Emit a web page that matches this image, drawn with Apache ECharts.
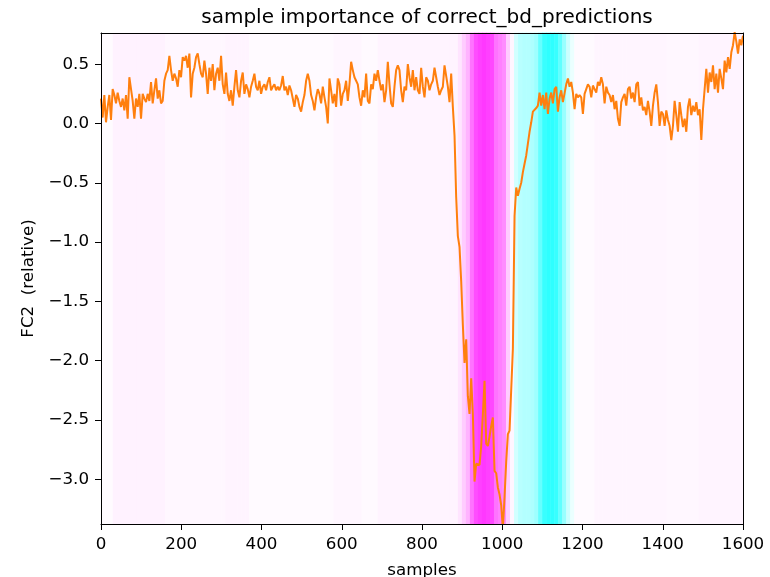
<!DOCTYPE html>
<html>
<head>
<meta charset="utf-8">
<script src="https://cdn.jsdelivr.net/npm/echarts@6/dist/echarts.min.js"></script>
<style>
  html, body { margin: 0; padding: 0; background: #ffffff; overflow: hidden; }
  #chart { width: 770px; height: 577px; }
</style>
</head>
<body>
<div id="chart"></div>
<script>
// Relative FC2 activation per sample; points are spaced evenly over 0..1600 samples.
const SAMPLE_STEP = 1600 / 385;

const fc2Early = [
  0.21,0.05,0.24,0.01,0.14,0.24,0.03,0.29,0.24,0.17,
  0.26,0.19,0.14,0.21,0.11,0.24,0.04,0.39,0.40,0.19,
  0.04,0.21,0.14,0.25,0.04,0.25,0.21,0.18,0.25,0.19,
  0.35,0.17,0.28,0.38,0.21,0.28,0.17,0.19,0.36,0.42,
  0.45,0.57,0.45,0.36,0.42,0.38,0.31,0.45,0.39,0.56,
  0.53,0.57,0.47,0.59,0.22,0.42,0.47,0.56,0.59,0.50,
  0.42,0.39,0.53,0.42,0.25,0.47,0.36,0.50,0.28,0.42,
  0.47,0.36,0.57
];

const fc2Plateau = [
  0.33,0.25,0.43,0.25,0.19,0.28,0.15,0.31,0.45,0.28,
  0.22,0.36,0.43,0.25,0.33,0.29,0.22,0.31,0.36,0.42,
  0.31,0.28,0.36,0.25,0.31,0.33,0.28,0.35,0.39,0.28,
  0.31,0.33,0.28,0.31,0.28,0.32,0.40,0.28,0.31,0.24,
  0.32,0.28,0.21,0.14,0.24,0.21,0.14,0.10,0.18,0.24,
  0.36,0.42,0.36,0.24,0.19,0.11,0.22,0.29,0.25,0.17,
  0.31,0.22,0.14,0.00,0.38,0.28,0.17,0.25,0.14,0.38,
  0.33,0.15,0.25
];

const fc2Late = [
  0.28,0.36,0.19,0.33,0.52,0.45,0.39,0.36,0.33,0.22,
  0.15,0.28,0.22,0.42,0.19,0.17,0.33,0.29,0.42,0.36,
  0.45,0.36,0.28,0.33,0.18,0.28,0.52,0.33,0.17,0.14,
  0.31,0.45,0.49,0.45,0.28,0.18,0.31,0.28,0.50,0.39,
  0.31,0.45,0.28,0.39,0.28,0.25,0.47,0.31,0.22,0.39,
  0.36,0.28,0.33,0.36,0.47,0.39,0.31,0.24,0.28,0.31,
  0.49,0.50,0.31,0.18,0.42,0.14
];

const fc2Drop = [
  -0.10,-0.62,-0.95,-1.04,-1.33,-1.70,-2.02,-1.82,-2.30,-2.45,
  -2.15,-2.45,-3.02,-2.87,-2.87,-2.88,-2.72,-2.45,-2.17,-2.70,
  -2.72,-2.64,-2.55,-2.48,-2.93,-2.95,-3.07,-3.13,-3.22,-3.42,
  -3.15,-2.85,-2.62,-2.59,-2.59,-1.90,-0.78,-0.54,-0.61,-0.55,
  -0.50
];

const fc2Recovery = [
  -0.41,-0.34,-0.27,-0.17,-0.07,0.01,0.10,0.11,0.13,0.15,
  0.26,0.15,0.24,0.12,0.26,0.08,0.21,0.26,0.17,0.29,
  0.31,0.10,0.22,0.28,0.18,0.19,0.33,0.38,0.31,0.35,
  0.26,0.12,0.25,0.22,0.24,0.22,0.08,0.25,0.26,0.33,
  0.31,0.22,0.32,0.29,0.26,0.35,0.32,0.39,0.33,0.17,
  0.31,0.26,0.24,0.18,0.24,0.12,0.19,0.04,-0.02,0.18,
  0.22,0.25,0.15,0.29,0.31,0.21,0.26,0.18,0.33,0.35,
  0.15,0.22,0.11,0.14,0.07,0.19,0.10,-0.02,0.15,0.26,
  0.33,0.18,-0.02,0.10,0.08,-0.02,0.11,0.03,-0.02,-0.14,
  -0.02,0.19,0.07,-0.07,0.18,0.07,-0.03,0.04,-0.07,0.14,
  0.21,0.07,0.15,0.10,0.18,0.07,0.12,-0.14,0.12,0.29,
  0.46,0.26,0.43,0.35,0.49,0.29,0.42,0.26,0.46,0.38,
  0.29,0.53,0.43,0.56,0.46,0.60,0.66,0.77,0.69,0.59,
  0.71,0.66,0.74
];

// Sample importance, one value per 10-sample bin (positive = magenta, negative = cyan).
const importance = [
  0.015,0.015,0.015,0.05,0.05,0.05,0.05,0.05,0.05,0.05,0.05,0.05,0.05,0.05,0.05,0.05,0.03,0.03,0.03,0.03,
  0.03,0.03,0.03,0.03,0.03,0.03,0.03,0.03,0.03,0.03,0.03,0.045,0.045,0.045,0.045,0.045,0.045,0.02,0.02,0.02,
  0.02,0.02,0.02,0.02,0.02,0.02,0.02,0.02,0.02,0.02,0.02,0.02,0.02,0.02,0.02,0.02,0.02,0.02,0.035,0.035,
  0.035,0.035,0.035,0.035,0.035,0.02,0.02,0.02,0.02,0.045,0.045,0.045,0.045,0.045,0.045,0.045,0.045,0.045,0.045,0.045,
  0.045,0.045,0.045,0.045,0.045,0.045,0.045,0.045,0.045,0.10,0.20,0.30,0.55,0.70,0.75,0.78,0.75,0.72,0.55,0.50,
  0.45,0.20,0.04,-0.18,-0.28,-0.30,-0.30,-0.32,-0.38,-0.60,-0.78,-0.82,-0.82,-0.78,-0.62,-0.40,-0.20,-0.08,0.02,0.02,
  0.02,0.02,0.02,0.04,0.04,0.04,0.04,0.04,0.04,0.04,0.04,0.04,0.04,0.04,0.04,0.04,0.04,0.04,0.04,0.04,
  0.04,0.03,0.03,0.03,0.03,0.03,0.03,0.03,0.03,0.045,0.045,0.045,0.045,0.045,0.045,0.045,0.045,0.045,0.045,0.045
];

const xTicks = [0, 200, 400, 600, 800, 1000, 1200, 1400, 1600];
const yTicks = [-3.0, -2.5, -2.0, -1.5, -1.0, -0.5, 0.0, 0.5];

const FONT = "'DejaVu Sans', sans-serif";
const TEXT = { color: '#000000', fontFamily: FONT, fontSize: 16.7 };

const fc2 = [].concat(fc2Early, fc2Plateau, fc2Late, fc2Drop, fc2Recovery);
const lineData = fc2.map((v, i) => [i * SAMPLE_STEP, v]);
const binIds = importance.map((_, k) => String(k));
const heatData = importance.map((v, k) => [k, 0, v]);

const fmtY = v => (v < 0 ? '\u2212' : '') + Math.abs(v).toFixed(1);
const fmtX = v => String(Math.round(v));

const chart = echarts.init(document.getElementById('chart'), null, { renderer: 'canvas' });

chart.setOption({
  animation: false,
  backgroundColor: '#ffffff',
  title: {
    text: 'sample importance of correct_bd_predictions',
    left: 422,
    top: 3,
    textAlign: 'center',
    textStyle: { color: '#000000', fontFamily: FONT, fontSize: 20, fontWeight: 'normal' }
  },
  grid: { left: 101, right: 27, top: 33, bottom: 53, containLabel: false, outerBoundsMode: 'none' },
  visualMap: {
    show: false,
    type: 'continuous',
    seriesIndex: 0,
    dimension: 2,
    min: -1,
    max: 1,
    inRange: { color: ['#00ffff', '#ffffff', '#ff00ff'] }
  },
  xAxis: [
    {
      type: 'value',
      min: xTicks[0],
      max: xTicks[xTicks.length - 1],
      interval: 200,
      name: 'samples',
      nameLocation: 'middle',
      nameGap: 38,
      nameTextStyle: TEXT,
      axisLine: { show: true, onZero: false, lineStyle: { color: '#000000', width: 1 } },
      axisTick: { show: true, length: 6, lineStyle: { color: '#000000', width: 1 } },
      axisLabel: Object.assign({ margin: 12, formatter: fmtX }, TEXT),
      splitLine: { show: false },
      z: 5
    },
    {
      type: 'category',
      data: binIds,
      position: 'top',
      boundaryGap: true,
      axisLine: { show: true, onZero: false, lineStyle: { color: '#000000', width: 1 } },
      axisTick: { show: false },
      axisLabel: { show: false },
      splitLine: { show: false },
      z: 5
    }
  ],
  yAxis: [
    {
      type: 'value',
      min: -3.378,
      max: 0.763,
      name: 'FC2  (relative)',
      nameLocation: 'middle',
      nameGap: 54,
      nameRotate: 90,
      nameTextStyle: TEXT,
      axisLine: { show: true, onZero: false, lineStyle: { color: '#000000', width: 1 } },
      axisTick: { show: true, length: 6, customValues: yTicks, lineStyle: { color: '#000000', width: 1 } },
      axisLabel: Object.assign({ margin: 12, customValues: yTicks, formatter: fmtY }, TEXT),
      splitLine: { show: false },
      z: 5
    },
    {
      type: 'category',
      data: ['importance'],
      position: 'right',
      boundaryGap: true,
      axisLine: { show: true, onZero: false, lineStyle: { color: '#000000', width: 1 } },
      axisTick: { show: false },
      axisLabel: { show: false },
      splitLine: { show: false },
      z: 5
    }
  ],
  series: [
    {
      type: 'heatmap',
      xAxisIndex: 1,
      yAxisIndex: 1,
      data: heatData,
      z: 1,
      progressive: 0,
      itemStyle: { borderWidth: 0 },
      emphasis: { disabled: true }
    },
    {
      type: 'line',
      xAxisIndex: 0,
      yAxisIndex: 0,
      data: lineData,
      symbol: 'none',
      showSymbol: false,
      clip: true,
      z: 4,
      lineStyle: { color: '#ff7f0e', width: 2 }
    }
  ]
});
</script>
</body>
</html>
